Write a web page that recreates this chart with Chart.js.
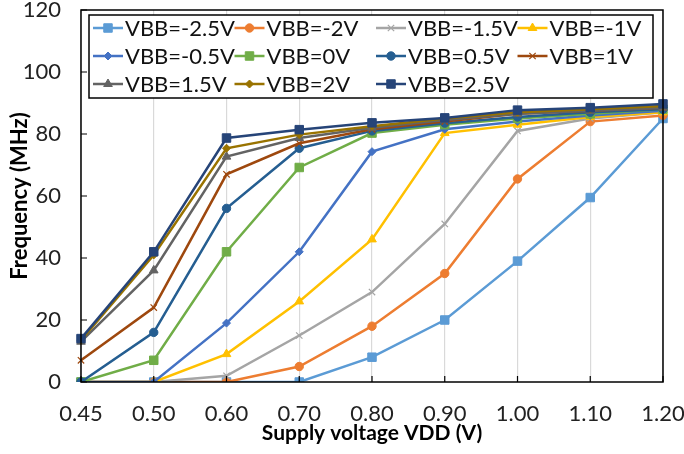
<!DOCTYPE html>
<html>
<head>
<meta charset="utf-8">
<script src="https://cdn.jsdelivr.net/npm/chart.js@4.4.0/dist/chart.umd.min.js"></script>
<style>
  html, body { margin: 0; padding: 0; background: #fff; }
  #wrap { width: 684px; height: 454px; position: relative; }
</style>
</head>
<body>
<div id="wrap"><canvas id="freqChart" width="684" height="454"></canvas></div>
<script>
// Supply voltage categories (x axis)
const vddLabels = ['0.45', '0.50', '0.60', '0.70', '0.80', '0.90', '1.00', '1.10', '1.20'];

// Frequency (MHz) per body-bias voltage
const vbbM25 = [0, 0, 0, 0, 8, 20, 39, 59.5, 85];
const vbbM20 = [0, 0, 0, 5, 18, 35, 65.5, 84, 86];
const vbbM15 = [0, 0, 2, 15, 29, 51, 81, 85, 87];
const vbbM10 = [0, 0, 9, 26, 46, 80.3, 83, 85.5, 87];
const vbbM05 = [0, 0, 19, 42, 74.3, 81.5, 84, 86, 87.5];
const vbb00 = [0, 7, 42, 69.2, 80.3, 83, 85, 86.5, 88];
const vbb05 = [0, 16, 56, 75.4, 81, 83.5, 85.5, 87, 88];
const vbb10 = [7, 24, 67, 77, 81.5, 84, 86.5, 87.5, 88.5];
const vbb15 = [13, 36, 72.7, 78.7, 82, 84.5, 86.5, 87.5, 88.5];
const vbb20 = [13.5, 41, 75.4, 79.8, 82.5, 85, 87, 88, 89];
const vbb25 = [14, 42, 78.7, 81.4, 83.6, 85.2, 87.7, 88.5, 89.7];

const seriesNames = ['VBB=-2.5V', 'VBB=-2V', 'VBB=-1.5V', 'VBB=-1V', 'VBB=-0.5V', 'VBB=0V',
                     'VBB=0.5V', 'VBB=1V', 'VBB=1.5V', 'VBB=2V', 'VBB=2.5V'];
const seriesData = [vbbM25, vbbM20, vbbM15, vbbM10, vbbM05, vbb00, vbb05, vbb10, vbb15, vbb20, vbb25];

// Excel-like colours and markers
const seriesColors = ['#5B9BD5', '#ED7D31', '#A5A5A5', '#FFC000', '#4472C4', '#70AD47',
                      '#255E91', '#9E480E', '#636363', '#997300', '#264478'];
const seriesMarkers = ['rect', 'circle', 'crossRot', 'triangle', 'rectRot', 'rect',
                       'circle', 'crossRot', 'triangle', 'rectRot', 'rect'];
const markerRadius = { rect: 6, circle: 4.2, crossRot: 4.5, triangle: 5, rectRot: 4 };

const FONT = 'Lato, "Open Sans", sans-serif';

const datasets = seriesNames.map((name, i) => ({
    label: name,
    data: seriesData[i],
    borderColor: seriesColors[i],
    backgroundColor: seriesColors[i],
    borderWidth: 2.5,
    pointStyle: seriesMarkers[i],
    pointRadius: markerRadius[seriesMarkers[i]],
    pointBorderWidth: seriesMarkers[i] === 'crossRot' ? 1.2 : 1,
    pointBorderColor: seriesColors[i],
    pointBackgroundColor: seriesColors[i],
    tension: 0,
    fill: false,
    // later series on top, like Excel
    order: seriesNames.length - i
}));

// Black frame round the plot area plus inward tick marks
const frameTicks = {
    id: 'frameTicks',
    afterDatasetsDraw(chart) {
        const { ctx, chartArea: a, scales } = chart;
        ctx.save();
        ctx.strokeStyle = '#000';
        ctx.lineWidth = 1.5;
        ctx.strokeRect(a.left, a.top, a.right - a.left, a.bottom - a.top);
        ctx.lineWidth = 1.2;
        ctx.beginPath();
        scales.y.ticks.forEach((t) => {
            const y = scales.y.getPixelForValue(t.value);
            ctx.moveTo(a.left, y);
            ctx.lineTo(a.left + 6, y);
        });
        vddLabels.forEach((l, i) => {
            const x = scales.x.getPixelForValue(i);
            ctx.moveTo(x, a.bottom);
            ctx.lineTo(x, a.bottom - 6);
        });
        ctx.stroke();
        ctx.restore();
    }
};

// Four-column boxed legend inside the plot, drawn from the datasets
const gridLegend = {
    id: 'gridLegend',
    afterDraw(chart) {
        const { ctx, chartArea: a } = chart;
        const boxL = a.left + 8, boxT = a.top + 5, boxR = a.right - 10, boxB = a.top + 88;
        const colW = 141.5, rowH = 28, lineLen = 30;
        ctx.save();
        ctx.fillStyle = '#fff';
        ctx.fillRect(boxL, boxT, boxR - boxL, boxB - boxT);
        ctx.strokeStyle = '#000';
        ctx.lineWidth = 1.5;
        ctx.strokeRect(boxL, boxT, boxR - boxL, boxB - boxT);
        chart.data.datasets.forEach((ds, i) => {
            const col = i % 4, row = Math.floor(i / 4);
            const x0 = boxL + 4 + col * colW;
            const y0 = boxT + 13 + row * rowH;
            ctx.strokeStyle = ds.borderColor;
            ctx.fillStyle = ds.backgroundColor;
            ctx.lineWidth = 2.5;
            ctx.beginPath();
            ctx.moveTo(x0, y0);
            ctx.lineTo(x0 + lineLen, y0);
            ctx.stroke();
            ctx.lineWidth = ds.pointBorderWidth;
            Chart.helpers.drawPoint(ctx, {
                pointStyle: ds.pointStyle,
                radius: ds.pointRadius,
                rotation: 0,
                borderWidth: ds.pointBorderWidth
            }, x0 + lineLen / 2, y0);
            ctx.fillStyle = '#111';
            ctx.font = '22px ' + FONT;
            ctx.textBaseline = 'middle';
            ctx.textAlign = 'left';
            ctx.fillText(ds.label, x0 + lineLen + 2, y0 + 1);
        });
        ctx.restore();
    }
};

new Chart(document.getElementById('freqChart'), {
    type: 'line',
    data: { labels: vddLabels, datasets: datasets },
    options: {
        responsive: false,
        animation: false,
        layout: { padding: { top: 5, right: 0, left: 0, bottom: 0 } },
        plugins: {
            legend: { display: false },
            tooltip: { enabled: false }
        },
        scales: {
            x: {
                type: 'category',
                offset: false,
                grid: { display: true, color: '#D9D9D9', lineWidth: 1.2, drawTicks: false },
                border: { display: false },
                ticks: { color: '#222', font: { family: FONT, size: 22 }, padding: 19, maxRotation: 0, autoSkip: false },
                title: {
                    display: true,
                    text: 'Supply voltage VDD (V)',
                    color: '#000',
                    font: { family: FONT, size: 21, weight: 'bold' },
                    padding: { top: 0, bottom: 8 }
                },
                afterFit: (scale) => {
                    scale.height = 72;
                    scale.paddingLeft = 0;
                    scale.paddingRight = 21;
                }
            },
            y: {
                min: 0,
                max: 120,
                ticks: { stepSize: 20, color: '#222', font: { family: FONT, size: 22 }, padding: 20 },
                grid: { display: false, drawTicks: false },
                border: { display: false },
                title: {
                    display: true,
                    text: 'Frequency (MHz)',
                    color: '#000',
                    font: { family: FONT, size: 22, weight: 'bold' },
                    padding: { top: 7, bottom: 0 }
                },
                afterFit: (scale) => {
                    scale.width = 81;
                    scale.paddingTop = 10;
                    scale.paddingBottom = 0;
                }
            }
        }
    },
    plugins: [frameTicks, gridLegend]
});
</script>
</body>
</html>
